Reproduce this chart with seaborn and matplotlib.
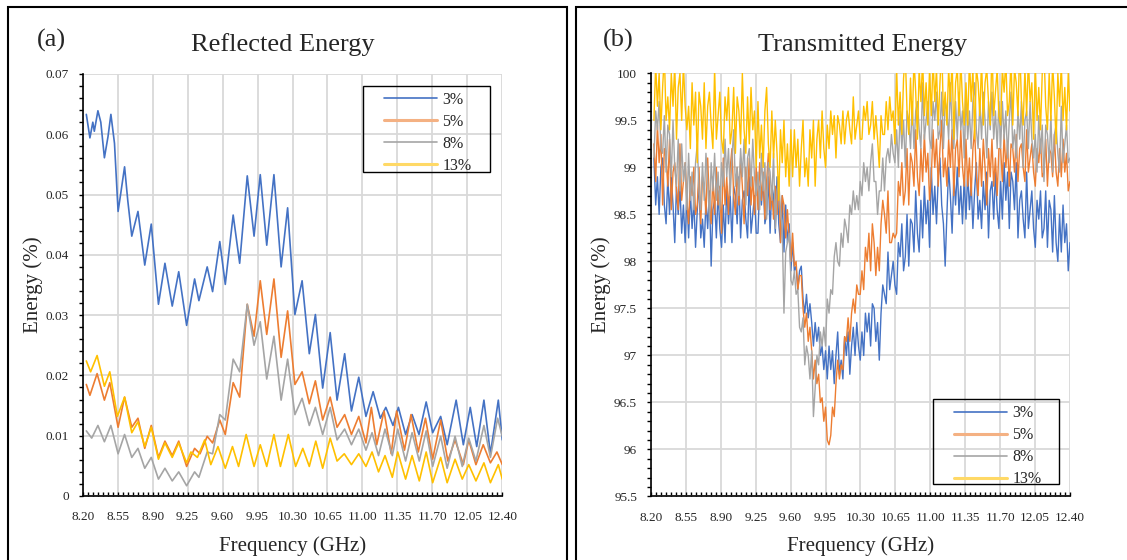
import numpy as np
import pandas as pd
import seaborn as sns
import matplotlib.pyplot as plt
from matplotlib.lines import Line2D
from matplotlib.patches import Rectangle
from matplotlib.ticker import MultipleLocator, FuncFormatter

loadings = ['3%', '5%', '8%', '13%']
colors = ['#4472C4', '#ED7D31', '#A5A5A5', '#FFC000']
freq_ticks = [8.20, 8.55, 8.90, 9.25, 9.60, 9.95, 10.30, 10.65, 11.00, 11.35, 11.70, 12.05, 12.40]

# (a) Reflected energy, peaks and troughs
refl_freq_3 = [8.236, 8.272, 8.301, 8.316, 8.352, 8.381, 8.417, 8.453, 8.482, 8.518, 8.554, 8.579,
               8.619, 8.651, 8.691, 8.753, 8.821, 8.886, 8.958, 9.023, 9.096, 9.161, 9.240, 9.320,
               9.363, 9.446, 9.500, 9.572, 9.627, 9.706, 9.771, 9.847, 9.915, 9.977, 10.042, 10.114,
               10.186, 10.251, 10.324, 10.396, 10.468, 10.529, 10.602, 10.677, 10.746, 10.822, 10.890,
               10.963, 11.035, 11.107, 11.179, 11.234, 11.306, 11.360, 11.432, 11.497, 11.566, 11.638,
               11.703, 11.783, 11.848, 11.938, 12.010, 12.079, 12.144, 12.216, 12.281, 12.360, 12.400]
refl_3 = [0.0633, 0.0594, 0.0620, 0.0605, 0.0639, 0.0620, 0.0561, 0.0596, 0.0633, 0.0585, 0.0472, 0.0500,
          0.0546, 0.0490, 0.0431, 0.0472, 0.0383, 0.0451, 0.0318, 0.0386, 0.0315, 0.0372, 0.0283, 0.0360,
          0.0324, 0.0380, 0.0339, 0.0422, 0.0351, 0.0466, 0.0386, 0.0531, 0.0431, 0.0533, 0.0416, 0.0533,
          0.0380, 0.0478, 0.0301, 0.0357, 0.0236, 0.0301, 0.0179, 0.0271, 0.0159, 0.0236, 0.0141,
          0.0197, 0.0132, 0.0173, 0.0129, 0.0147, 0.0117, 0.0147, 0.0102, 0.0135, 0.0102, 0.0156,
          0.0105, 0.0132, 0.0085, 0.0159, 0.0085, 0.0147, 0.0082, 0.0159, 0.0070, 0.0159, 0.0093]

refl_freq_5 = [8.236, 8.272, 8.344, 8.417, 8.471, 8.554, 8.619, 8.691, 8.753, 8.821, 8.886, 8.958,
               9.023, 9.096, 9.161, 9.240, 9.320, 9.374, 9.446, 9.500, 9.572, 9.627, 9.706, 9.771,
               9.847, 9.915, 9.977, 10.042, 10.114, 10.186, 10.251, 10.324, 10.396, 10.468, 10.529,
               10.602, 10.677, 10.746, 10.822, 10.890, 10.963, 11.035, 11.089, 11.143, 11.216, 11.288,
               11.342, 11.421, 11.486, 11.559, 11.631, 11.703, 11.783, 11.855, 11.927, 12.010, 12.064,
               12.136, 12.209, 12.281, 12.346, 12.400]
refl_5 = [0.0185, 0.0167, 0.0203, 0.0159, 0.0188, 0.0114, 0.0164, 0.0114, 0.0129, 0.0079, 0.0117, 0.0064,
          0.0091, 0.0067, 0.0091, 0.0049, 0.0079, 0.0070, 0.0099, 0.0088, 0.0126, 0.0102, 0.0188, 0.0164,
          0.0318, 0.0265, 0.0357, 0.0268, 0.0360, 0.0230, 0.0307, 0.0185, 0.0206, 0.0153, 0.0191,
          0.0126, 0.0164, 0.0114, 0.0135, 0.0102, 0.0132, 0.0088, 0.0147, 0.0085, 0.0141, 0.0070,
          0.0141, 0.0076, 0.0135, 0.0073, 0.0129, 0.0061, 0.0126, 0.0058, 0.0093, 0.0052, 0.0093,
          0.0052, 0.0085, 0.0055, 0.0073, 0.0052]

refl_freq_8 = [8.236, 8.290, 8.352, 8.417, 8.482, 8.554, 8.619, 8.691, 8.753, 8.821, 8.886, 8.958,
               9.023, 9.096, 9.161, 9.240, 9.320, 9.363, 9.446, 9.500, 9.572, 9.627, 9.706, 9.771,
               9.847, 9.915, 9.977, 10.042, 10.114, 10.186, 10.251, 10.324, 10.396, 10.468, 10.529,
               10.602, 10.677, 10.746, 10.822, 10.890, 10.963, 11.035, 11.096, 11.161, 11.226, 11.299,
               11.353, 11.432, 11.497, 11.569, 11.638, 11.703, 11.783, 11.848, 11.927, 11.999, 12.064,
               12.136, 12.216, 12.281, 12.353, 12.400]
refl_8 = [0.0108, 0.0096, 0.0117, 0.0090, 0.0117, 0.0070, 0.0102, 0.0064, 0.0079, 0.0046, 0.0064, 0.0028,
          0.0046, 0.0025, 0.0040, 0.0017, 0.0040, 0.0031, 0.0073, 0.0070, 0.0135, 0.0126, 0.0227, 0.0206,
          0.0318, 0.0250, 0.0289, 0.0194, 0.0265, 0.0159, 0.0227, 0.0135, 0.0162, 0.0117, 0.0147,
          0.0102, 0.0147, 0.0093, 0.0111, 0.0085, 0.0111, 0.0076, 0.0105, 0.0067, 0.0111, 0.0067,
          0.0111, 0.0058, 0.0105, 0.0058, 0.0108, 0.0049, 0.0099, 0.0046, 0.0099, 0.0049, 0.0096,
          0.0058, 0.0117, 0.0064, 0.0129, 0.0099]

refl_freq_13 = [8.236, 8.279, 8.344, 8.417, 8.471, 8.547, 8.619, 8.691, 8.753, 8.821, 8.886, 8.958,
                9.023, 9.096, 9.161, 9.240, 9.283, 9.348, 9.421, 9.482, 9.554, 9.627, 9.699, 9.760,
                9.836, 9.915, 9.977, 10.042, 10.114, 10.179, 10.258, 10.331, 10.403, 10.468, 10.533,
                10.602, 10.677, 10.746, 10.818, 10.890, 10.963, 11.035, 11.096, 11.161, 11.226, 11.299,
                11.353, 11.432, 11.497, 11.569, 11.638, 11.703, 11.783, 11.848, 11.927, 11.999, 12.064,
                12.136, 12.216, 12.281, 12.360, 12.400]
refl_13 = [0.0224, 0.0206, 0.0233, 0.0182, 0.0206, 0.0132, 0.0164, 0.0105, 0.0123, 0.0082, 0.0114, 0.0061,
           0.0088, 0.0064, 0.0088, 0.0055, 0.0073, 0.0064, 0.0093, 0.0052, 0.0082, 0.0046, 0.0082, 0.0049,
           0.0102, 0.0049, 0.0085, 0.0049, 0.0102, 0.0049, 0.0102, 0.0049, 0.0079, 0.0049, 0.0091,
           0.0046, 0.0096, 0.0058, 0.0070, 0.0052, 0.0070, 0.0049, 0.0073, 0.0040, 0.0067, 0.0031,
           0.0073, 0.0028, 0.0067, 0.0025, 0.0073, 0.0022, 0.0064, 0.0022, 0.0061, 0.0028, 0.0052,
           0.0025, 0.0055, 0.0022, 0.0052, 0.0028]

# (b) Transmitted energy on the analyser's even sweep grid (241 points, 20 per row ~ one grid cell)
trans_freq = np.linspace(8.23, 12.40, 241)
trans_3 = [99.1, 98.6, 98.9, 98.5, 99.0, 99.1, 98.6, 98.4, 98.9, 98.5, 98.9, 98.6, 98.2, 98.8, 98.5, 98.8, 98.3, 98.6, 98.2, 98.7,
           98.25, 98.75, 98.35, 98.65, 98.15, 98.55, 98.85, 98.25, 98.45, 98.15, 98.65, 98.35, 98.75, 97.95, 98.55, 98.65, 98.25, 98.75, 98.35, 98.15,
           98.6, 98.2, 98.8, 98.4, 98.7, 98.2, 98.8, 98.7, 98.4, 98.9, 98.25, 98.65, 98.75, 98.45, 98.25, 98.9, 98.3, 98.5, 98.7, 98.3,
           98.3, 98.8, 98.6, 98.9, 98.4, 98.5, 98.9, 98.3, 98.8, 98.7, 98.3, 98.9, 98.4, 98.2, 98.7, 98.1, 98.6, 98.2, 98.4, 97.9,
           98.2, 97.9, 97.95, 97.7, 97.9, 97.95, 97.6, 97.45, 97.65, 97.4, 97.55, 97.35, 97.1, 97.35, 97.15, 97.3, 97.0, 97.1, 96.85, 97.05,
           96.75, 97.1, 96.85, 97.05, 96.7, 97.0, 97.25, 96.8, 96.95, 96.75, 97.2, 97.0, 97.25, 96.8, 97.1, 97.3, 97.0, 97.35, 97.1, 96.95,
           97.25, 97.0, 97.45, 97.25, 97.45, 97.1, 97.55, 97.5, 97.15, 97.35, 96.95, 97.45, 97.75, 97.65, 97.55, 98.1, 97.7, 97.85, 98.0, 97.75,
           97.65, 98.2, 98.05, 98.4, 97.9, 98.05, 98.5, 97.95, 98.45, 98.4, 98.1, 98.75, 98.3, 98.1, 98.65, 98.25, 98.8, 98.4, 98.65, 98.15,
           99.0, 98.5, 98.8, 98.4, 98.9, 99.1, 98.6, 98.4, 97.95, 98.5, 99.0, 98.7, 98.3, 98.9, 98.6, 99.0, 98.5, 98.8, 98.4, 98.9,
           98.45, 98.95, 98.55, 98.85, 98.35, 98.75, 99.05, 98.45, 98.65, 98.35, 98.85, 98.55, 98.95, 98.25, 98.75, 98.85, 98.45, 98.95, 98.55, 98.35,
           98.85, 98.45, 99.05, 98.65, 98.95, 98.35, 98.95, 98.85, 98.55, 99.05, 98.25, 98.65, 98.75, 98.45, 98.25, 98.95, 98.35, 98.55, 98.75, 98.35,
           98.15, 98.65, 98.45, 98.75, 98.25, 98.35, 98.75, 98.15, 98.65, 98.55, 98.1, 98.7, 98.2, 98.0, 98.5, 98.1, 98.6, 98.2, 98.4, 97.9,
           98.2]
trans_5 = [99.25, 98.85, 99.45, 99.05, 99.35, 98.6, 99.2, 99.1, 98.8, 99.3, 98.55, 98.95, 99.05, 98.75, 98.55, 99.25, 98.65, 98.85, 99.05, 98.65,
           98.4, 98.9, 98.7, 99.0, 98.5, 98.6, 99.0, 98.4, 98.9, 98.8, 98.5, 99.1, 98.6, 98.4, 98.9, 98.5, 99.0, 98.6, 98.8, 98.3,
           99.1, 98.6, 98.9, 98.5, 99.0, 99.2, 98.7, 98.5, 99.0, 98.6, 99.1, 98.8, 98.4, 99.0, 98.7, 99.1, 98.6, 98.9, 98.5, 99.0,
           98.55, 99.05, 98.65, 98.95, 98.45, 98.85, 99.15, 98.55, 98.75, 98.45, 98.8, 98.5, 98.9, 98.2, 98.7, 98.6, 98.25, 98.55, 98.25, 98.0,
           98.3, 97.95, 98.0, 97.7, 97.85, 97.85, 97.5, 97.3, 97.45, 97.15, 97.3, 97.05, 96.75, 96.95, 96.7, 96.8, 96.5, 96.55, 96.3, 96.45,
           96.1, 96.05, 96.15, 96.45, 96.35, 96.7, 96.95, 96.75, 96.9, 96.85, 97.2, 97.15, 97.4, 97.15, 97.45, 97.6, 97.45, 97.75, 97.65, 97.65,
           97.9, 97.7, 98.15, 98.0, 98.3, 97.9, 98.4, 98.2, 97.85, 98.15, 97.9, 98.4, 98.65, 98.5, 98.3, 98.75, 98.2, 98.2, 98.3, 98.25,
           98.3, 98.85, 98.7, 99.05, 98.6, 98.75, 99.2, 98.6, 99.15, 99.05, 98.8, 99.4, 98.9, 98.7, 99.2, 98.85, 99.35, 98.95, 99.15, 98.65,
           98.9, 99.4, 99.0, 99.3, 98.8, 99.2, 99.5, 98.9, 99.1, 98.8, 99.3, 99.0, 99.4, 98.7, 99.2, 99.3, 98.9, 99.4, 99.0, 98.8,
           99.3, 98.8, 99.1, 98.7, 99.2, 99.4, 98.9, 98.7, 99.2, 98.8, 99.3, 99.0, 98.6, 99.2, 98.9, 99.3, 98.8, 99.1, 98.7, 99.2,
           99.2, 98.85, 99.35, 99.0, 99.25, 98.8, 99.25, 99.2, 98.95, 99.35, 98.85, 99.2, 99.25, 99.0, 98.85, 99.4, 98.95, 99.1, 99.25, 98.95,
           98.8, 99.2, 99.05, 99.3, 98.9, 98.95, 99.3, 98.8, 99.2, 99.15, 98.9, 99.35, 98.95, 98.8, 99.2, 98.9, 99.3, 98.95, 99.15, 98.75,
           98.85]
trans_8 = [99.1, 99.6, 99.4, 99.7, 99.2, 99.15, 99.55, 98.95, 99.45, 99.35, 98.9, 99.5, 99.0, 98.8, 99.3, 98.75, 99.25, 98.85, 99.05, 98.55,
           99.15, 98.65, 98.95, 98.55, 99.05, 99.25, 98.75, 98.55, 99.05, 98.65, 99.15, 98.85, 98.45, 99.05, 98.75, 99.15, 98.65, 98.95, 98.55, 99.05,
           98.8, 99.3, 98.9, 99.2, 98.7, 99.1, 99.4, 98.8, 99.0, 98.7, 99.2, 98.9, 99.3, 98.6, 99.1, 99.2, 98.8, 99.3, 98.9, 98.7,
           98.95, 98.55, 99.15, 98.75, 99.05, 98.45, 99.05, 98.95, 98.65, 99.15, 98.35, 98.75, 98.85, 98.55, 98.35, 97.45, 98.1, 98.2, 98.3, 97.8,
           97.75, 97.9, 97.65, 97.7, 97.3, 97.25, 97.4, 96.9, 97.1, 97.0, 96.75, 97.05, 96.35, 96.65, 97.0, 96.9, 97.25, 97.1, 97.3, 97.1,
           97.6, 97.45, 97.7, 97.65, 98.05, 98.2, 98.0, 97.95, 98.3, 98.15, 98.45, 98.35, 98.2, 98.6, 98.5, 98.75, 98.55, 98.7, 98.55, 98.85,
           98.7, 99.05, 98.85, 99.0, 98.75, 99.05, 99.25, 98.85, 98.85, 98.5, 98.75, 98.75, 99.1, 98.75, 99.1, 99.2, 99.05, 99.35, 99.15, 99.05,
           99.4, 99.0, 99.6, 99.2, 99.5, 99.0, 99.6, 99.5, 99.2, 99.7, 99.2, 99.6, 99.7, 99.4, 99.2, 99.9, 99.3, 99.5, 99.7, 99.3,
           99.2, 99.7, 99.5, 99.8, 99.3, 99.4, 99.8, 99.2, 99.7, 99.6, 99.3, 99.9, 99.4, 99.2, 99.7, 99.3, 99.8, 99.4, 99.6, 99.1,
           99.8, 99.3, 99.6, 99.2, 99.7, 99.9, 99.4, 99.2, 99.7, 99.3, 99.8, 99.5, 99.1, 99.7, 99.4, 99.8, 99.3, 99.6, 99.2, 99.7,
           99.2, 99.7, 99.3, 99.6, 99.1, 99.5, 99.8, 99.2, 99.4, 99.1, 99.6, 99.3, 99.7, 99.0, 99.5, 99.6, 99.2, 99.7, 99.3, 99.1,
           99.35, 98.95, 99.55, 99.15, 99.45, 98.85, 99.45, 99.35, 99.05, 99.55, 98.95, 99.35, 99.45, 99.15, 98.95, 99.65, 99.05, 99.25, 99.45, 99.05,
           99.1]
trans_13 = [99.5, 100.1, 99.65, 100.0, 99.4, 99.85, 100.2, 99.5, 99.75, 99.4, 100.0, 99.65, 100.1, 99.3, 99.85, 100.0, 99.5, 100.1, 99.65, 99.4,
            99.65, 99.2, 99.9, 99.45, 99.8, 99.05, 99.8, 99.65, 99.3, 99.9, 99.2, 99.65, 99.8, 99.45, 99.2, 100.05, 99.3, 99.55, 99.8, 99.3,
            99.15, 99.75, 99.5, 99.85, 99.25, 99.4, 99.85, 99.15, 99.75, 99.6, 99.25, 100.0, 99.4, 99.15, 99.75, 99.25, 99.85, 99.4, 99.6, 99.0,
            99.7, 99.1, 99.45, 99.0, 99.6, 99.85, 99.25, 99.0, 99.6, 99.1, 99.5, 99.15, 98.65, 99.4, 99.05, 99.5, 98.9, 99.25, 98.8, 99.4,
            98.9, 99.4, 99.0, 99.3, 98.8, 99.2, 99.5, 98.9, 99.1, 98.8, 99.4, 99.1, 99.5, 98.8, 99.3, 99.5, 99.1, 99.6, 99.2, 99.0,
            99.45, 99.2, 99.6, 99.35, 99.55, 99.1, 99.55, 99.45, 99.25, 99.6, 99.25, 99.5, 99.6, 99.4, 99.25, 99.75, 99.3, 99.45, 99.6, 99.3,
            99.3, 99.65, 99.5, 99.7, 99.35, 99.45, 99.7, 99.3, 99.55, 99.3, 99.0, 99.55, 99.35, 99.35, 99.7, 99.4, 99.75, 99.5, 99.6, 99.25,
            100.05, 99.45, 99.8, 99.35, 99.95, 100.2, 99.6, 99.35, 99.95, 99.45, 100.15, 99.8, 99.3, 100.05, 99.7, 100.15, 99.55, 99.9, 99.45, 100.05,
            99.55, 100.15, 99.7, 100.05, 99.45, 99.9, 100.3, 99.55, 99.8, 99.45, 100.05, 99.7, 100.15, 99.3, 99.9, 100.05, 99.55, 100.15, 99.7, 99.45,
            99.9, 99.45, 100.15, 99.7, 100.05, 99.3, 100.05, 99.9, 99.55, 100.15, 99.45, 99.9, 100.05, 99.7, 99.45, 100.3, 99.55, 99.8, 100.05, 99.55,
            99.45, 100.05, 99.8, 100.15, 99.55, 99.7, 100.15, 99.45, 100.05, 99.9, 99.55, 100.3, 99.7, 99.45, 100.05, 99.55, 100.15, 99.7, 99.9, 99.3,
            100.1, 99.5, 99.85, 99.4, 100.0, 100.25, 99.65, 99.4, 100.0, 99.5, 100.1, 99.75, 99.25, 100.0, 99.65, 100.1, 99.5, 99.85, 99.4, 100.0,
            99.6]

sns.set_theme(style='white')
plt.rcParams['font.family'] = ['Liberation Serif', 'DejaVu Serif']

refl = pd.concat([pd.DataFrame({'freq': f, 'energy': e, 'loading': n})
                  for f, e, n in zip([refl_freq_3, refl_freq_5, refl_freq_8, refl_freq_13],
                                     [refl_3, refl_5, refl_8, refl_13], loadings)])
trans = pd.concat([pd.DataFrame({'freq': trans_freq, 'energy': e, 'loading': n})
                   for e, n in zip([trans_3, trans_5, trans_8, trans_13], loadings)])

fig = plt.figure(figsize=(11.27, 5.6), dpi=100)
ax1 = fig.add_axes([0.0734, 0.1143, 0.3723, 0.7536])
ax2 = fig.add_axes([0.5776, 0.1134, 0.3718, 0.7556])

sns.lineplot(data=refl, x='freq', y='energy', hue='loading', hue_order=loadings, palette=colors,
             estimator=None, sort=False, lw=1.2, legend=False, ax=ax1)
sns.lineplot(data=trans, x='freq', y='energy', hue='loading', hue_order=loadings, palette=colors,
             estimator=None, sort=False, lw=1.0, legend=False, ax=ax2)


def style(ax, ylim, ystep, yminor, yfmt):
    ax.set_xlim(8.20, 12.40)
    ax.set_ylim(*ylim)
    ax.set_xticks(freq_ticks)
    ax.xaxis.set_major_formatter(FuncFormatter(lambda v, _: f'{v:.2f}'))
    ax.xaxis.set_minor_locator(MultipleLocator(0.05))
    ax.yaxis.set_major_locator(MultipleLocator(ystep))
    ax.yaxis.set_minor_locator(MultipleLocator(yminor))
    ax.yaxis.set_major_formatter(FuncFormatter(yfmt))
    ax.grid(True, which='major', color='#d9d9d9', lw=1.3)
    ax.set_axisbelow(True)
    for s in ['top', 'right']:
        ax.spines[s].set_visible(False)
    for s in ['left', 'bottom']:
        ax.spines[s].set_color('black')
        ax.spines[s].set_linewidth(1.2)
    ax.tick_params(axis='x', which='both', direction='in', length=3, width=1, color='black',
                   labelsize=9.5, pad=11, bottom=True)
    ax.tick_params(axis='y', which='both', direction='out', length=3, width=1, color='black',
                   labelsize=9.5, pad=7, left=True)
    ax.set_xlabel('Frequency (GHz)', fontsize=15, labelpad=9)
    ax.set_ylabel('Energy (%)', fontsize=15, labelpad=2)


style(ax1, (0, 0.07), 0.01, 0.002, lambda v, _: '0' if abs(v) < 1e-9 else f'{v:.2f}')
style(ax2, (95.5, 100), 0.5, 0.1, lambda v, _: f'{v:g}')

# legends: Excel-like boxes
handles = [Line2D([], [], color='#4472C4', lw=1.2), Line2D([], [], color='#F4B183', lw=2.2),
           Line2D([], [], color='#A5A5A5', lw=1.2), Line2D([], [], color='#FFD966', lw=2.2)]
for ax, anchor, box in [(ax1, (0.718, 0.958), (0.668, 0.768, 0.303, 0.2036)),
                        (ax2, (0.723, 0.216), (0.673, 0.0307, 0.301, 0.2006))]:
    ax.legend(handles, loadings, loc='upper left', bbox_to_anchor=anchor, frameon=False,
              borderpad=0, borderaxespad=0, handlelength=3.3, handletextpad=0.35,
              labelspacing=0.38, fontsize=11.5)
    ax.add_patch(Rectangle(box[:2], box[2], box[3], transform=ax.transAxes, fill=False,
                           edgecolor='black', lw=1, zorder=5))

fig.text(51 / 1127, 1 - 40 / 560, '(a)', fontsize=19, ha='center', va='center')
fig.text(283 / 1127, 1 - 45 / 560, 'Reflected Energy', fontsize=19, ha='center', va='center')
fig.text(618 / 1127, 1 - 40 / 560, '(b)', fontsize=19, ha='center', va='center')
fig.text(863 / 1127, 1 - 45 / 560, 'Transmitted Energy', fontsize=19, ha='center', va='center')

# panel frames
fig.add_artist(Rectangle((8 / 1127, -0.02), 559 / 1127, 1.02 - 7 / 560, transform=fig.transFigure,
                         fill=False, edgecolor='black', lw=1.5))
fig.add_artist(Rectangle((576 / 1127, -0.02), 0.6, 1.02 - 7 / 560, transform=fig.transFigure,
                         fill=False, edgecolor='black', lw=1.5))

fig.savefig('out.png', dpi=100)
